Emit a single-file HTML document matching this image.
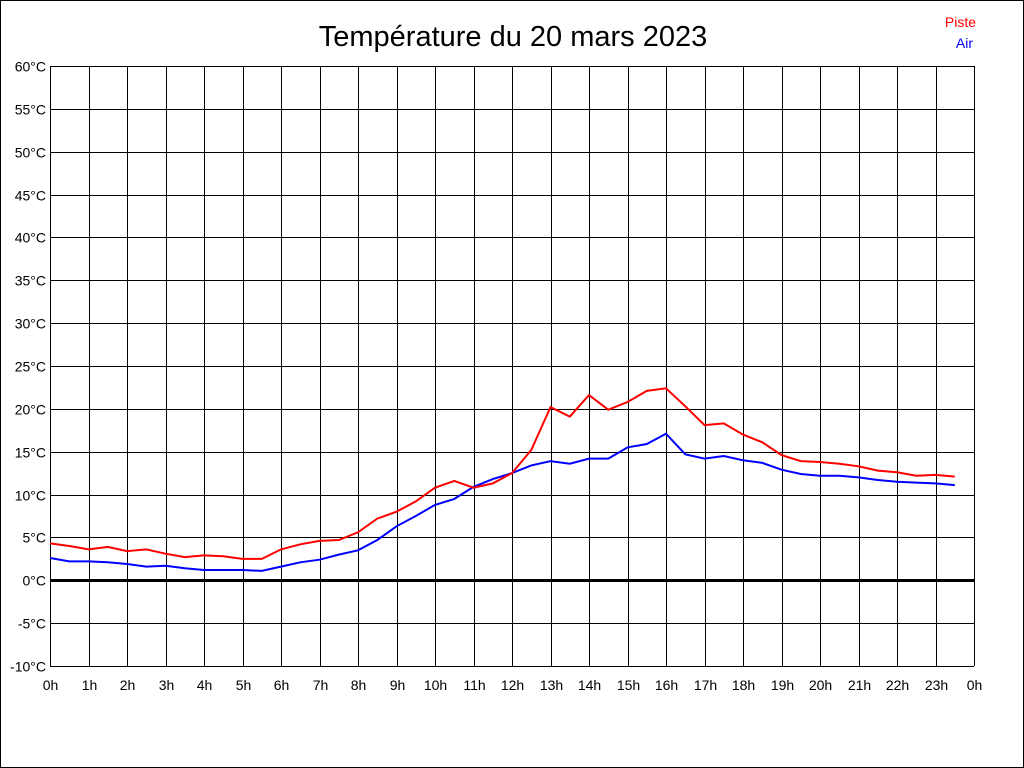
<!DOCTYPE html>
<html><head><meta charset="utf-8"><style>
html,body{margin:0;padding:0;background:#fff;}
svg{display:block;font-family:"Liberation Sans",sans-serif;}
</style></head><body>
<svg id="chart" width="1024" height="768">
<rect x="0.5" y="0.5" width="1023" height="767" fill="#fff" stroke="#000"/>
<text x="513" y="46" font-size="29" text-anchor="middle">Température du 20 mars 2023</text>
<text x="976" y="27" font-size="14" fill="#f00" text-anchor="end">Piste</text>
<text x="973" y="48" font-size="14" fill="#00f" text-anchor="end">Air</text>
<g id="grid"></g><g id="series"></g>
</svg>
<script>
const hours = [0,0.5,1,1.5,2,2.5,3,3.5,4,4.5,5,5.5,6,6.5,7,7.5,8,8.5,9,9.5,10,10.5,11,11.5,12,12.5,13,13.5,14,14.5,15,15.5,16,16.5,17,17.5,18,18.5,19,19.5,20,20.5,21,21.5,22,22.5,23,23.5];
const piste = [4.3,4.0,3.6,3.9,3.4,3.6,3.1,2.7,2.9,2.8,2.5,2.5,3.6,4.2,4.6,4.7,5.6,7.2,8.0,9.2,10.8,11.6,10.8,11.3,12.5,15.2,20.2,19.1,21.6,19.9,20.8,22.1,22.4,20.3,18.1,18.3,17.0,16.1,14.6,13.9,13.8,13.6,13.3,12.8,12.6,12.2,12.3,12.1];
const air = [2.6,2.2,2.2,2.1,1.9,1.6,1.7,1.4,1.2,1.2,1.2,1.1,1.6,2.1,2.4,3.0,3.5,4.7,6.3,7.5,8.8,9.5,10.9,11.8,12.5,13.4,13.9,13.6,14.2,14.2,15.5,15.9,17.1,14.7,14.2,14.5,14.0,13.7,12.9,12.4,12.2,12.2,12.0,11.7,11.5,11.4,11.3,11.1];
const yTicks = [60,55,50,45,40,35,30,25,20,15,10,5,0,-5,-10];
const xTicks = [0,1,2,3,4,5,6,7,8,9,10,11,12,13,14,15,16,17,18,19,20,21,22,23,24];
const xTickLabels = ["0h","1h","2h","3h","4h","5h","6h","7h","8h","9h","10h","11h","12h","13h","14h","15h","16h","17h","18h","19h","20h","21h","22h","23h","0h"];

const X0=50,X1=974,Y0=66,Y1=666;
const xs = h => X0 + (X1-X0)*h/24;
const ys = v => Y0 + (Y1-Y0)*(60-v)/70;
const NS="http://www.w3.org/2000/svg";
const grid=document.getElementById('grid'), ser=document.getElementById('series');
function mk(tag,attrs,parent){const e=document.createElementNS(NS,tag);for(const k in attrs)e.setAttribute(k,attrs[k]);parent.appendChild(e);return e;}

yTicks.forEach(v=>{
  const y=Math.round(ys(v))+0.5;
  const l=mk('line',{x1:X0,x2:X1,y1:y,y2:y,stroke:'#000','stroke-width':v===0?3:1},grid);
  
  
  const t=mk('text',{x:46,y:y+5,'font-size':14,'text-anchor':'end'},grid);
  t.textContent=v+'°C';
  
  
});
xTicks.forEach((h,i)=>{
  const x=Math.round(xs(h))+0.5;
  const l=mk('line',{x1:x,x2:x,y1:Y0,y2:Y1,stroke:'#000','stroke-width':1},grid);
  
  
  const t=mk('text',{x:x,y:690,'font-size':14,'text-anchor':'middle'},grid);
  t.textContent=xTickLabels[i];
  
  
});
function line(vals,color,name){
  const pts=vals.map((v,i)=>xs(hours[i]).toFixed(1)+','+ys(v).toFixed(1)).join(' ');
  const p=mk('polyline',{points:pts,fill:'none',stroke:color,'stroke-width':2},ser);
  
  
}
line(air,'#00f','air-line');
line(piste,'#f00','piste-line');
</script>
</body></html>
